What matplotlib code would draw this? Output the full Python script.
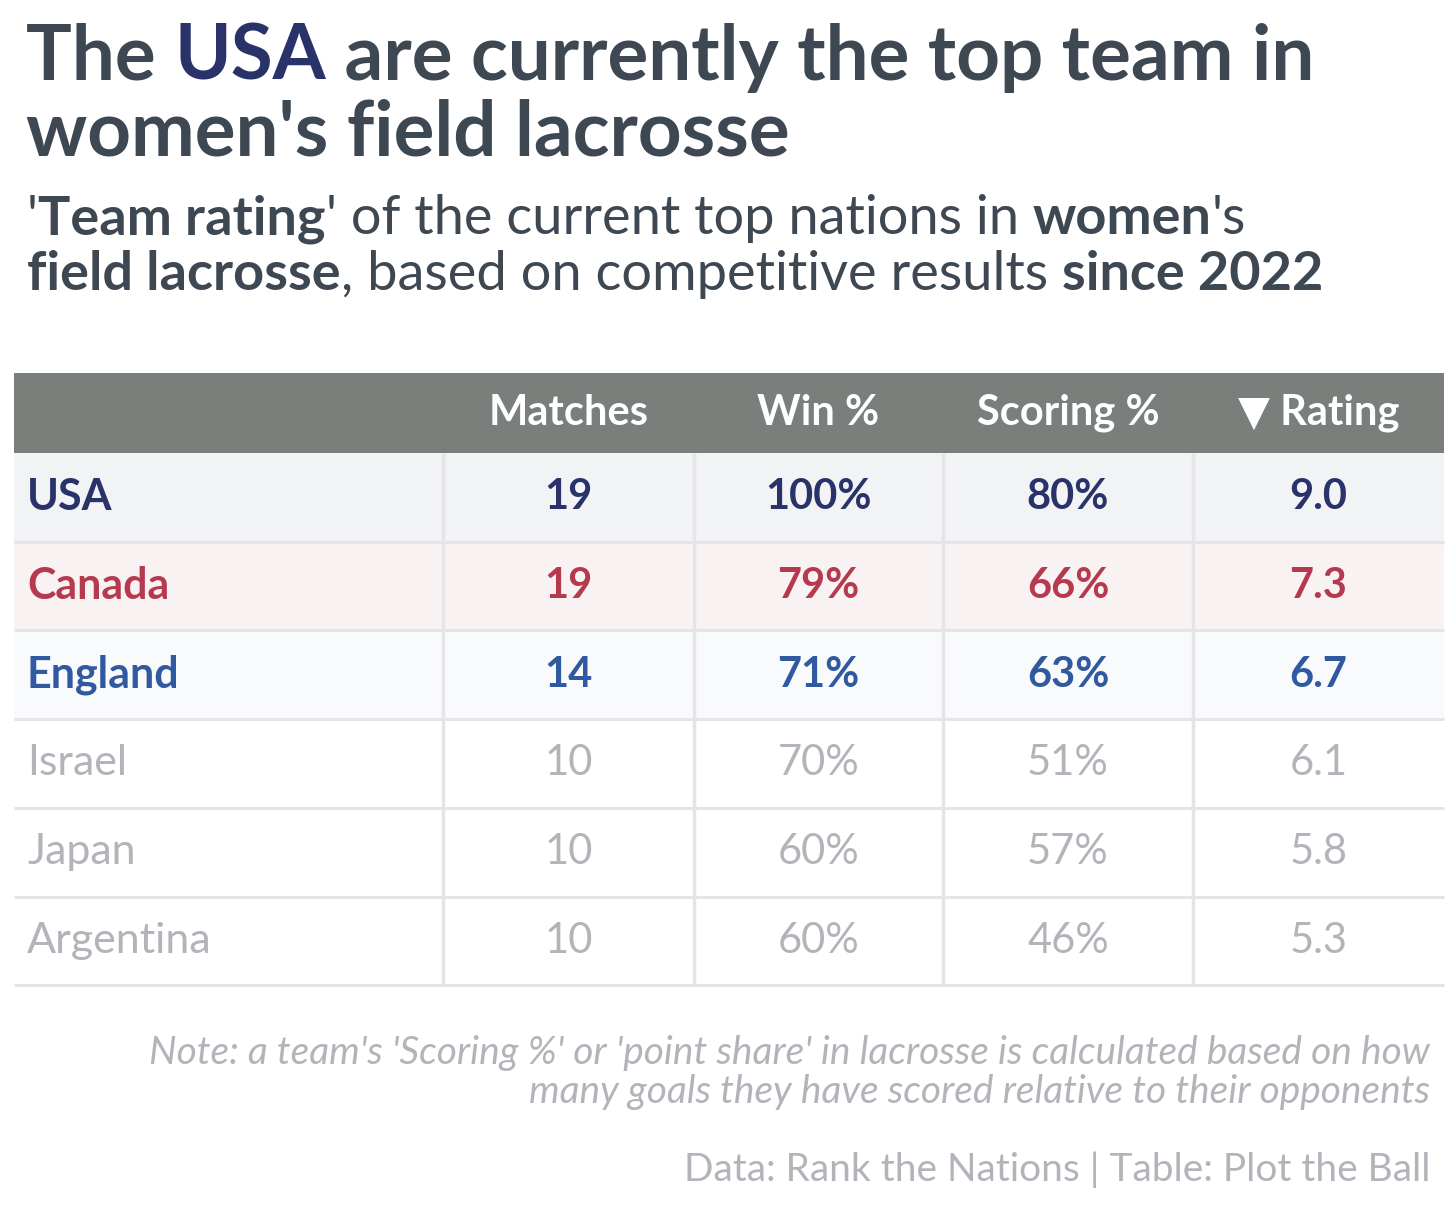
import matplotlib
matplotlib.use('Agg')
from matplotlib import pyplot as plt
from matplotlib.patches import Rectangle

teams = ['USA', 'Canada', 'England', 'Israel', 'Japan', 'Argentina']
matches = [19, 19, 14, 10, 10, 10]
win_pct = [100, 79, 71, 70, 60, 60]
scoring_pct = [80, 66, 63, 51, 57, 46]
rating = [9.0, 7.3, 6.7, 6.1, 5.8, 5.3]
columns = ['Matches', 'Win %', 'Scoring %', '\u25BC Rating']

FONT = ['Lato', 'DejaVu Sans']
DARK = '#3e4853'
GREY = '#b2b4ba'
text_col = {'USA': '#29336a', 'Canada': '#b63a4f', 'England': '#30599f'}
row_bg = {'USA': '#f2f3f5', 'Canada': '#f8f2f3', 'England': '#f8fafc'}
HEAD = '#7a7f7c'
LINE = '#e5e5e8'

W, H = 1456, 1215
fig = plt.figure(figsize=(W / 100, H / 100), dpi=100)
ax = fig.add_axes([0, 0, 1, 1])
ax.set_xlim(0, W)
ax.set_ylim(H, 0)
ax.axis('off')
r = fig.canvas.get_renderer()


def rich(x, y, parts, size):
    # pieces of text in a row, each with its own weight / colour
    for s, w, c in parts:
        t = ax.text(x, y, s, fontsize=size, fontweight=w, color=c, family=FONT, va='baseline')
        x += t.get_window_extent(renderer=r).width


# title
rich(26, 80, [('The ', 'bold', DARK), ('USA', 'bold', text_col['USA']),
              (' are currently the top team in', 'bold', DARK)], 55)
rich(26, 156, [("women's field lacrosse", 'bold', DARK)], 55)

# subtitle
rich(27, 234, [("'", 'normal', DARK), ('Team rating', 'bold', DARK),
               ("' of the current top nations in ", 'normal', DARK),
               ('women', 'bold', DARK), ("'s", 'normal', DARK)], 39)
rich(27, 290, [('field lacrosse', 'bold', DARK),
               (', based on competitive results ', 'normal', DARK),
               ('since 2022', 'bold', DARK)], 39)

# table geometry
left, right = 14, 1444
head_top, head_bot = 373, 453
row_h = 88.7
bounds = [left, 443, 694, 943, 1193, right]
centers = [(bounds[i] + bounds[i + 1]) / 2 for i in range(1, 5)]

ax.add_patch(Rectangle((left, head_top), right - left, head_bot - head_top, color=HEAD, lw=0))
for c, lab in zip(centers, columns):
    ax.text(c, (head_top + head_bot) / 2, lab, fontsize=30, fontweight='bold', color='white',
            family=FONT, ha='center', va='center')

for i, team in enumerate(teams):
    top = head_bot + i * row_h
    bg = row_bg.get(team, 'white')
    ax.add_patch(Rectangle((left, top), right - left, row_h, color=bg, lw=0))
    col = text_col.get(team, GREY)
    wt = 'bold' if team in text_col else 'normal'
    ym = top + row_h / 2
    ax.text(27, ym, team, fontsize=31, fontweight=wt, color=col, family=FONT, va='center')
    vals = [str(matches[i]), f'{win_pct[i]}%', f'{scoring_pct[i]}%', f'{rating[i]:.1f}']
    for c, v in zip(centers, vals):
        ax.text(c, ym, v, fontsize=30, fontweight=wt, color=col, family=FONT,
                ha='center', va='center')
    ax.plot([left, right], [top + row_h, top + row_h], color=LINE, lw=2.2, solid_capstyle='butt')

bottom = head_bot + len(teams) * row_h
for b in bounds[1:5]:
    ax.plot([b, b], [head_bot, bottom], color=LINE, lw=2.5, solid_capstyle='butt')

# notes
ax.text(1430, 1053, "Note: a team's 'Scoring %' or 'point share' in lacrosse is calculated based on how",
        fontsize=28, style='italic', color=GREY, family=FONT, ha='right', va='center')
ax.text(1430, 1092, "many goals they have scored relative to their opponents",
        fontsize=28, style='italic', color=GREY, family=FONT, ha='right', va='center')
ax.text(1430, 1170, 'Data: Rank the Nations | Table: Plot the Ball',
        fontsize=28, color=GREY, family=FONT, ha='right', va='center')

fig.savefig('out.png', dpi=100, facecolor='white')
